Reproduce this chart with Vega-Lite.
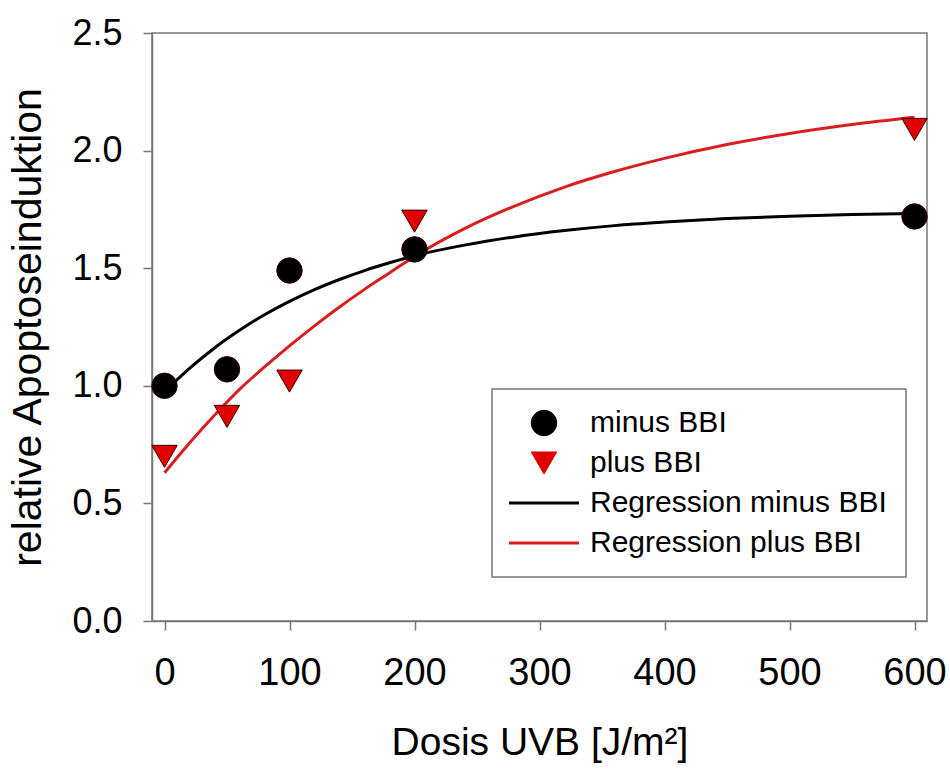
{
  "$schema": "https://vega.github.io/schema/vega-lite/v6.json",
  "width": 775,
  "height": 588,
  "autosize": "none",
  "padding": {"left": 152, "top": 33, "right": 23, "bottom": 148},
  "background": "white",
  "config": {
    "font": "Liberation Sans",
    "view": {"stroke": "#777777", "strokeWidth": 1.5},
    "axis": {
      "grid": false,
      "domainColor": "#777777",
      "domainWidth": 1.5,
      "tickColor": "#777777",
      "tickWidth": 1.5,
      "tickSize": 9,
      "labelColor": "black",
      "titleColor": "black",
      "titleFontWeight": "normal",
      "labelFont": "Liberation Sans",
      "titleFont": "Liberation Sans",
      "labelFlush": false,
      "labelOverlap": false
    }
  },
  "datasets": {
    "points": [
      {"dose": 0, "value": 1.00, "series": "minus BBI"},
      {"dose": 50, "value": 1.07, "series": "minus BBI"},
      {"dose": 100, "value": 1.49, "series": "minus BBI"},
      {"dose": 200, "value": 1.58, "series": "minus BBI"},
      {"dose": 600, "value": 1.72, "series": "minus BBI"},
      {"dose": 0, "value": 0.70, "series": "plus BBI"},
      {"dose": 50, "value": 0.87, "series": "plus BBI"},
      {"dose": 100, "value": 1.02, "series": "plus BBI"},
      {"dose": 200, "value": 1.70, "series": "plus BBI"},
      {"dose": 600, "value": 2.09, "series": "plus BBI"}
    ],
    "curves": [
      {"dose": 0, "value": 0.975, "series": "Regression minus BBI"},
      {"dose": 20, "value": 1.074, "series": "Regression minus BBI"},
      {"dose": 40, "value": 1.161, "series": "Regression minus BBI"},
      {"dose": 60, "value": 1.236, "series": "Regression minus BBI"},
      {"dose": 80, "value": 1.302, "series": "Regression minus BBI"},
      {"dose": 100, "value": 1.359, "series": "Regression minus BBI"},
      {"dose": 120, "value": 1.409, "series": "Regression minus BBI"},
      {"dose": 140, "value": 1.452, "series": "Regression minus BBI"},
      {"dose": 160, "value": 1.490, "series": "Regression minus BBI"},
      {"dose": 180, "value": 1.523, "series": "Regression minus BBI"},
      {"dose": 200, "value": 1.553, "series": "Regression minus BBI"},
      {"dose": 240, "value": 1.598, "series": "Regression minus BBI"},
      {"dose": 280, "value": 1.633, "series": "Regression minus BBI"},
      {"dose": 320, "value": 1.660, "series": "Regression minus BBI"},
      {"dose": 360, "value": 1.681, "series": "Regression minus BBI"},
      {"dose": 400, "value": 1.696, "series": "Regression minus BBI"},
      {"dose": 450, "value": 1.711, "series": "Regression minus BBI"},
      {"dose": 500, "value": 1.721, "series": "Regression minus BBI"},
      {"dose": 550, "value": 1.728, "series": "Regression minus BBI"},
      {"dose": 600, "value": 1.733, "series": "Regression minus BBI"},
      {"dose": 0, "value": 0.630, "series": "Regression plus BBI"},
      {"dose": 20, "value": 0.757, "series": "Regression plus BBI"},
      {"dose": 40, "value": 0.875, "series": "Regression plus BBI"},
      {"dose": 60, "value": 0.985, "series": "Regression plus BBI"},
      {"dose": 80, "value": 1.080, "series": "Regression plus BBI"},
      {"dose": 100, "value": 1.170, "series": "Regression plus BBI"},
      {"dose": 120, "value": 1.255, "series": "Regression plus BBI"},
      {"dose": 140, "value": 1.335, "series": "Regression plus BBI"},
      {"dose": 160, "value": 1.410, "series": "Regression plus BBI"},
      {"dose": 180, "value": 1.480, "series": "Regression plus BBI"},
      {"dose": 200, "value": 1.550, "series": "Regression plus BBI"},
      {"dose": 240, "value": 1.668, "series": "Regression plus BBI"},
      {"dose": 280, "value": 1.764, "series": "Regression plus BBI"},
      {"dose": 320, "value": 1.845, "series": "Regression plus BBI"},
      {"dose": 360, "value": 1.911, "series": "Regression plus BBI"},
      {"dose": 400, "value": 1.967, "series": "Regression plus BBI"},
      {"dose": 450, "value": 2.026, "series": "Regression plus BBI"},
      {"dose": 500, "value": 2.073, "series": "Regression plus BBI"},
      {"dose": 550, "value": 2.111, "series": "Regression plus BBI"},
      {"dose": 600, "value": 2.142, "series": "Regression plus BBI"}
    ]
  },
  "layer": [
    {
      "data": {"name": "curves"},
      "mark": {"type": "line", "strokeWidth": 3, "interpolate": "monotone"},
      "encoding": {
        "x": {"field": "dose", "type": "quantitative", "scale": {"domain": [-10, 610], "nice": false, "zero": false},
          "axis": {"values": [0, 100, 200, 300, 400, 500, 600], "title": "Dosis UVB [J/m²]", "labelFontSize": 38, "labelPadding": 24, "titleFontSize": 39, "titlePadding": 31}},
        "y": {"field": "value", "type": "quantitative", "scale": {"domain": [0, 2.5], "nice": false},
          "axis": {"values": [0, 0.5, 1, 1.5, 2, 2.5], "format": ".1f", "title": "relative Apoptoseinduktion", "labelFontSize": 36, "labelPadding": 21, "titleFontSize": 41, "titlePadding": 22}},
        "color": {"field": "series", "type": "nominal",
          "scale": {"domain": ["minus BBI", "plus BBI", "Regression minus BBI", "Regression plus BBI"], "range": ["#000000", "#e00000", "#000000", "#d81e1e"]},
          "legend": {
            "orient": "none", "legendX": 340, "legendY": 356, "title": null,
            "padding": 19, "strokeColor": "#777777", "fillColor": "white",
            "labelFontSize": 30, "labelFont": "Liberation Sans", "labelColor": "black", "labelLimit": 500,
            "symbolSize": 650, "symbolOffset": 18, "labelOffset": 31, "rowPadding": 10,
            "values": ["minus BBI", "plus BBI", "Regression minus BBI", "Regression plus BBI"],
            "encode": {
              "legend": {"update": {"strokeWidth": {"value": 1.5}}},
              "symbols": {"update": {
              "size": {"signal": "indexof(['Regression minus BBI','Regression plus BBI'], datum.value) >= 0 ? 4900 : 650"},
              "shape": {"signal": "datum.value == 'minus BBI' ? 'circle' : datum.value == 'plus BBI' ? 'triangle-down' : 'stroke'"},
              "strokeWidth": {"signal": "indexof(['Regression minus BBI','Regression plus BBI'], datum.value) >= 0 ? 3 : 1"},
              "fill": {"signal": "datum.value == 'minus BBI' ? '#000000' : datum.value == 'plus BBI' ? '#e00000' : 'transparent'"},
              "stroke": {"signal": "datum.value == 'minus BBI' ? '#000000' : datum.value == 'plus BBI' ? '#3a0000' : datum.value == 'Regression minus BBI' ? '#000000' : '#d81e1e'"},
              "opacity": {"value": 1}
            }}}
          }},
        "detail": {"field": "series"}
      }
    },
    {
      "data": {"name": "points"},
      "mark": {"type": "point", "filled": true, "size": 650, "opacity": 1, "stroke": "#3a0000", "strokeWidth": 1},
      "encoding": {
        "x": {"field": "dose", "type": "quantitative"},
        "y": {"field": "value", "type": "quantitative"},
        "color": {"field": "series", "type": "nominal"},
        "shape": {"field": "series", "type": "nominal",
          "scale": {"domain": ["minus BBI", "plus BBI", "Regression minus BBI", "Regression plus BBI"], "range": ["circle", "triangle-down", "stroke", "stroke"]},
          "legend": null}
      }
    }
  ]
}
